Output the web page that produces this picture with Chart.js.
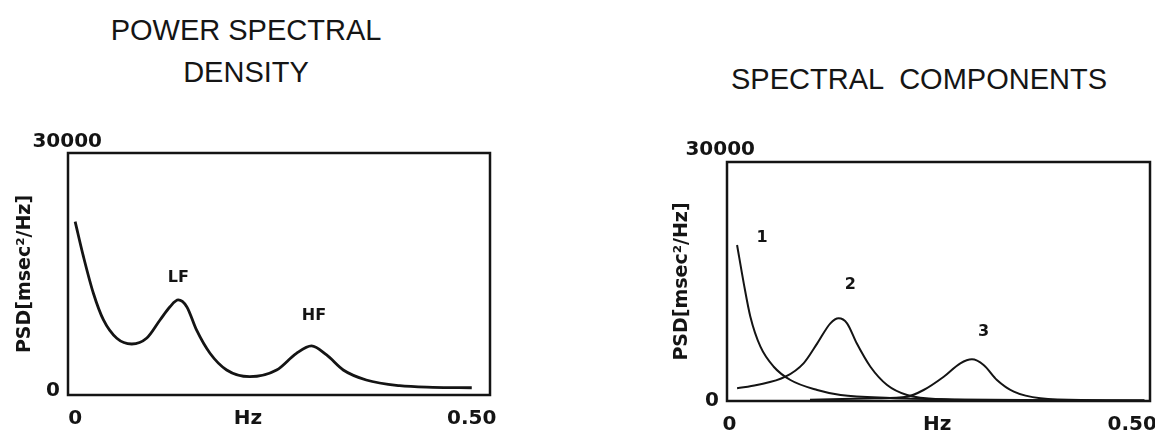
<!DOCTYPE html>
<html>
<head>
<meta charset="utf-8">
<script src="https://cdn.jsdelivr.net/npm/chart.js@4.4.1/dist/chart.umd.min.js"></script>
<style>
  html, body { margin: 0; padding: 0; background: #fff; overflow: hidden; }
  #page { position: relative; width: 1155px; height: 438px; }
  .title {
    position: absolute; width: 420px; text-align: center; white-space: pre;
    font-family: "Liberation Sans", Arial, sans-serif; font-size: 29px; line-height: 42px; color: #151515;
  }
  .box { position: absolute; top: 0; height: 438px; }
</style>
</head>
<body>
<div id="page">
  <div class="title" style="left:36px; top:9px;">POWER SPECTRAL<br>DENSITY</div>
  <div class="title" style="left:709px; top:58px;">SPECTRAL  COMPONENTS</div>
  <div class="box" style="left:0; width:577px;"><canvas id="psdChart"></canvas></div>
  <div class="box" style="left:640px; width:515px;"><canvas id="compChart"></canvas></div>
</div>
<script>
// total power spectral density (left)
var psdHz  = [0, 0.0105, 0.023, 0.0357, 0.0525, 0.0714, 0.090, 0.107, 0.1196, 0.130, 0.1407, 0.153,
              0.170, 0.191, 0.220, 0.254, 0.279, 0.298, 0.317, 0.338, 0.367, 0.409, 0.451, 0.50];
var psdVal = [21490, 17150, 12610, 9300, 7030, 6320, 7030, 9300, 10950, 11780, 10950, 8060,
              5170, 3100, 2270, 3100, 5170, 6080, 4960, 3100, 1860, 1150, 950, 900];
var psdPeakNames = ["LF", "HF"];
var psdPeakHz    = [0.130, 0.301];
var psdPeakVal   = [14500, 9800];

// spectral components (right)
var comp1Hz  = [0.0095, 0.0178, 0.026, 0.0385, 0.055, 0.0757, 0.109, 0.138, 0.200, 0.2825, 0.365, 0.45, 0.515];
var comp1Val = [19580, 14770, 10580, 6815, 4300, 2635, 1380, 750, 380, 200, 110, 70, 50];
var comp2Hz  = [0.0095, 0.034, 0.0695, 0.092, 0.109, 0.1253, 0.1356, 0.146, 0.158, 0.175, 0.1957, 0.2205, 0.262, 0.35, 0.515];
var comp2Val = [1590, 2010, 3050, 4730, 7240, 9750, 10380, 9750, 7240, 4300, 2010, 750, 210, 80, 40];
var comp3Hz  = [0.10, 0.18, 0.2205, 0.241, 0.266, 0.2866, 0.301, 0.3155, 0.332, 0.353, 0.386, 0.45, 0.515];
var comp3Val = [150, 330, 540, 1380, 3050, 4731, 5233, 4518, 2635, 1167, 340, 100, 50];
var compNames = ["1", "2", "3"];
var compNameHz  = [0.0405, 0.150, 0.3155];
var compNameVal = [20450, 14560, 8700];

// axes
var yMax = 30000;
var yTopLabel = "30000";
var yTitle = "PSD[msec\u00b2/Hz]";
var psdTickHz    = [0, 0.218, 0.5];
var compTickHz   = [0, 0.258, 0.5];
var xTickLabels  = ["0", "Hz", "0.50"];

var ink = "#141414";
var tickFont = { family: "DejaVu Sans", weight: "bold", size: 20 };

function points(xs, ys) {
  return xs.map(function (x, i) { return { x: x, y: ys[i] }; });
}

function lineSet(xs, ys, width) {
  return {
    data: points(xs, ys),
    borderColor: ink,
    borderWidth: width,
    pointRadius: 0,
    fill: false,
    tension: 0.4,
    cubicInterpolationMode: "monotone"
  };
}

// frame round the plot, the 30000 label over the corner, and the peak names
function framePlugin(names, nameHz, nameVal, dx, dy) {
  return {
    id: "frame",
    afterDraw: function (chart) {
      var ctx = chart.ctx, a = chart.chartArea, sx = chart.scales.x, sy = chart.scales.y;
      ctx.save();
      ctx.strokeStyle = ink;
      ctx.lineWidth = 2.5;
      ctx.strokeRect(a.left, a.top, a.right - a.left, a.bottom - a.top);
      ctx.fillStyle = ink;
      ctx.font = 'bold 20px "DejaVu Sans"';
      ctx.textAlign = "right";
      ctx.textBaseline = "middle";
      ctx.fillText(yTopLabel, a.left + dx, sy.getPixelForValue(yMax) + dy);
      ctx.font = 'bold 16px "DejaVu Sans"';
      ctx.textAlign = "center";
      for (var i = 0; i < names.length; i++) {
        ctx.fillText(names[i], sx.getPixelForValue(nameHz[i]), sy.getPixelForValue(nameVal[i]));
      }
      ctx.restore();
    }
  };
}

function makeScales(xMin, xMax, tickHz, xHeight, yWidth, yTitlePad, zeroDy) {
  return {
    x: {
      type: "linear",
      min: xMin,
      max: xMax,
      grid: { display: false, drawTicks: false },
      border: { display: false },
      afterBuildTicks: function (s) { s.ticks = tickHz.map(function (v) { return { value: v }; }); },
      afterFit: function (s) { s.height = xHeight; s.paddingLeft = 0; s.paddingRight = 0; },
      ticks: {
        autoSkip: false, maxRotation: 0, padding: 12, color: ink, font: tickFont,
        callback: function (v, i) { return xTickLabels[i]; }
      }
    },
    y: {
      min: 0,
      max: yMax,
      grid: { display: false, drawTicks: false },
      border: { display: false },
      afterBuildTicks: function (s) { s.ticks = [{ value: 0 }]; },
      afterFit: function (s) { s.width = yWidth; s.paddingTop = 0; s.paddingBottom = 0; },
      ticks: { padding: 8, color: ink, font: tickFont, labelOffset: zeroDy },
      title: {
        display: true,
        text: yTitle,
        color: ink,
        font: { family: "DejaVu Sans", weight: "bold", size: 19 },
        padding: { top: yTitlePad, bottom: 0 }
      }
    }
  };
}

function baseOptions(pad, scales) {
  return {
    responsive: true,
    maintainAspectRatio: false,
    animation: false,
    layout: { padding: pad },
    plugins: { legend: { display: false }, tooltip: { enabled: false } },
    scales: scales
  };
}

new Chart(document.getElementById("psdChart"), {
  type: "line",
  data: { datasets: [lineSet(psdHz, psdVal, 2.8)] },
  options: baseOptions({ left: 0, top: 153, right: 87, bottom: 0 },
    makeScales(-0.009, 0.523, psdTickHz, 43, 68, 14, -4)),
  plugins: [framePlugin(psdPeakNames, psdPeakHz, psdPeakVal, 34, -11)]
});

new Chart(document.getElementById("compChart"), {
  type: "line",
  data: {
    datasets: [
      lineSet(comp1Hz, comp1Val, 2),
      lineSet(comp2Hz, comp2Val, 2),
      lineSet(comp3Hz, comp3Val, 2)
    ]
  },
  options: baseOptions({ left: 0, top: 162, right: 5, bottom: 0 },
    makeScales(-0.003, 0.522, compTickHz, 37, 87, 31, 0)),
  plugins: [framePlugin(compNames, compNameHz, compNameVal, 28, -12)]
});
</script>
</body>
</html>
